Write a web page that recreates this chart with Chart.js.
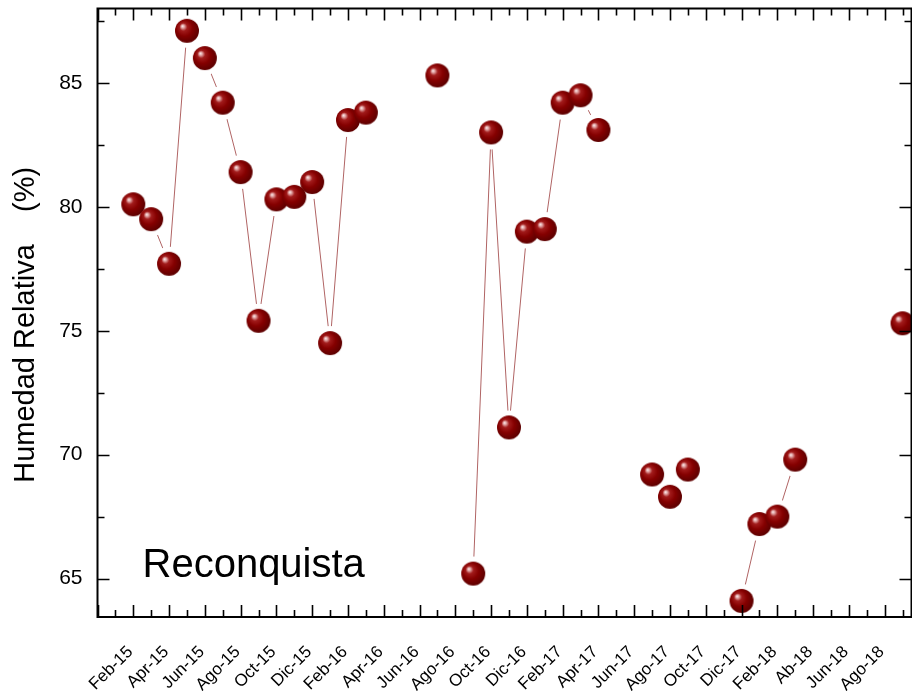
<!DOCTYPE html>
<html>
<head>
<meta charset="utf-8">
<title>Humedad Relativa - Reconquista</title>
<script src="https://cdn.jsdelivr.net/npm/chart.js@4.4.1/dist/chart.umd.min.js"></script>
<style>
  html, body { margin: 0; padding: 0; background: #fff; overflow: hidden; }
  #wrap { width: 912px; height: 691px; }
</style>
</head>
<body>
<div id="wrap"><canvas id="humChart" width="912" height="691"></canvas></div>
<script>
// Monthly mean relative humidity, one value per month starting Feb-15 (null = no record)
const humidity = [
  80.1, 79.5, 77.7, 87.1, 86.0, 84.2, 81.4, 75.4, 80.3, 80.4, 81.0,   // Feb-15 .. Dic-15
  74.5, 83.5, 83.8, null, null, null, 85.3, null, 65.2, 83.0, 71.1, 79.0, // Ene-16 .. Dic-16
  79.1, 84.2, 84.5, 83.1, null, null, 69.2, 68.3, 69.4, null, null, 64.1, // Ene-17 .. Dic-17
  67.2, 67.5, 69.8, null, null, null, null, null, 75.3                // Ene-18 .. Sep-18
];

// Labels for every second month (major ticks)
const tickLabels = [
  'Feb-15', 'Apr-15', 'Jun-15', 'Ago-15', 'Oct-15', 'Dic-15',
  'Feb-16', 'Apr-16', 'Jun-16', 'Ago-16', 'Oct-16', 'Dic-16',
  'Feb-17', 'Apr-17', 'Jun-17', 'Ago-17', 'Oct-17', 'Dic-17',
  'Feb-18', 'Ab-18', 'Jun-18', 'Ago-18'
];

const yTicks = [65, 70, 75, 80, 85];

const stationName = 'Reconquista';
const yTitle = 'Humedad Relativa    (%)   ';

const FONT = '"Liberation Sans", Arial, sans-serif';

const points = humidity.map((v, i) => ({ x: i, y: v }));

// Shaded sphere used as the marker
function makeSphere(r) {
  const size = r * 2 + 2;
  const c = document.createElement('canvas');
  c.width = c.height = size;
  const g = c.getContext('2d');
  const cx = size / 2, cy = size / 2;
  const grad = g.createRadialGradient(cx - r * 0.38, cy - r * 0.4, 0, cx - r * 0.12, cy - r * 0.12, r * 1.08);
  grad.addColorStop(0, '#fdf2f2');
  grad.addColorStop(0.12, '#e4aaaa');
  grad.addColorStop(0.3, '#a21c1c');
  grad.addColorStop(0.62, '#850000');
  grad.addColorStop(1, '#600000');
  g.fillStyle = grad;
  g.beginPath();
  g.arc(cx, cy, r, 0, Math.PI * 2);
  g.fill();
  return c;
}

const sphere = makeSphere(12);

// no extra room around the plot for half-labels
function noPadding(s) {
  s.paddingTop = s.paddingBottom = s.paddingLeft = s.paddingRight = 0;
}

// Frame with inward ticks on all four sides, plus the station label
const framePlugin = {
  id: 'frame',
  afterDatasetsDraw(chart) {
    const { ctx, chartArea: a, scales: { x, y } } = chart;
    ctx.save();
    ctx.strokeStyle = '#000';
    ctx.lineWidth = 1.6;

    ctx.beginPath();
    for (let m = Math.ceil(x.min); m <= x.max; m++) {
      const px = Math.round(x.getPixelForValue(m)) + 0.5;
      const len = m % 2 === 0 ? 12 : 7;
      ctx.moveTo(px, a.bottom); ctx.lineTo(px, a.bottom - len);
      ctx.moveTo(px, a.top); ctx.lineTo(px, a.top + len);
    }
    const step = yTicks[1] - yTicks[0];
    for (let v = yTicks[0] - step; v <= y.max; v += step / 2) {
      if (v < y.min) continue;
      const py = Math.round(y.getPixelForValue(v)) + 0.5;
      const len = yTicks.includes(v) ? 12 : 7;
      ctx.moveTo(a.left, py); ctx.lineTo(a.left + len, py);
      ctx.moveTo(a.right, py); ctx.lineTo(a.right - len, py);
    }
    ctx.stroke();

    ctx.lineWidth = 2;
    ctx.strokeRect(a.left, a.top, a.right - a.left, a.bottom - a.top);
    ctx.restore();
  },
  afterDraw(chart) {
    const { ctx, chartArea: a } = chart;
    ctx.save();
    ctx.font = '40px ' + FONT;
    ctx.fillStyle = '#000';
    ctx.textBaseline = 'alphabetic';
    ctx.fillText(stationName, a.left + 45, a.bottom - 40);
    ctx.restore();
  }
};

new Chart(document.getElementById('humChart'), {
  type: 'line',
  data: {
    datasets: [
      {
        // markers
        data: points,
        showLine: false,
        pointStyle: sphere,
        pointRadius: 12,
        clip: false
      },
      {
        // white gap around each marker, hides the line ends
        data: points,
        showLine: false,
        pointStyle: 'circle',
        pointRadius: 17,
        pointBackgroundColor: '#fff',
        pointBorderWidth: 0,
        clip: false
      },
      {
        // connecting line
        data: points,
        borderColor: '#b06464',
        borderWidth: 1,
        pointRadius: 0,
        spanGaps: false,
        tension: 0
      }
    ]
  },
  options: {
    responsive: false,
    animation: false,
    events: [],
    layout: { autoPadding: false, padding: { top: 8.5, right: 0.5, left: 0, bottom: 0 } },
    plugins: {
      legend: { display: false },
      tooltip: { enabled: false }
    },
    scales: {
      x: {
        type: 'linear',
        min: -2,
        max: 43.5,
        grid: { display: false, drawTicks: false },
        border: { display: false },
        afterBuildTicks: s => { s.ticks = tickLabels.map((_, i) => ({ value: i * 2 })); },
        afterFit: s => { s.height = 74; noPadding(s); },
        ticks: {
          autoSkip: false,
          maxRotation: 45,
          minRotation: 45,
          padding: 25,
          labelOffset: -3,
          color: '#000',
          font: { family: FONT, size: 17 },
          callback: (v, i) => tickLabels[i]
        }
      },
      y: {
        min: 63.45,
        max: 88,
        grid: { display: false, drawTicks: false },
        border: { display: false },
        afterBuildTicks: s => { s.ticks = yTicks.map(v => ({ value: v })); },
        afterFit: s => { s.width = 97.5; noPadding(s); },
        ticks: {
          padding: 15,
          color: '#000',
          font: { family: FONT, size: 21 }
        },
        title: {
          display: true,
          text: yTitle,
          color: '#000',
          font: { family: FONT, size: 29 },
          padding: { top: 9, bottom: 0 }
        }
      }
    }
  },
  plugins: [framePlugin]
});
</script>
</body>
</html>
